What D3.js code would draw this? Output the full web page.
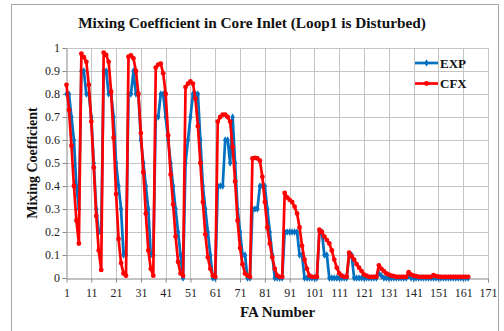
<!DOCTYPE html>
<html>
<head>
<meta charset="utf-8">
<script src="https://cdn.jsdelivr.net/npm/d3@7"></script>
<style>
  html, body { margin: 0; padding: 0; background: #fff; }
  svg { display: block; }
  text { font-family: "Liberation Serif", "Times New Roman", serif; }
</style>
</head>
<body>
<svg id="chart" width="504" height="331"></svg>
<script>
// ---------------- DATA ----------------
const chartTitle = "Mixing Coefficient in Core Inlet (Loop1 is Disturbed)";
const xTitle = "FA Number";
const yTitle = "Mixing Coefficient";
const seriesNames = ["EXP", "CFX"];
const xTickValues = [1, 11, 21, 31, 41, 51, 61, 71, 81, 91, 101, 111, 121, 131, 141, 151, 161, 171];
const yTickValues = [0, 0.1, 0.2, 0.3, 0.4, 0.5, 0.6, 0.7, 0.8, 0.9, 1];

const expValues = [
  0.8, 0.8, 0.7, 0.6, 0.4, 0.3,
  0.9, 0.9, 0.8, 0.8, 0.7, 0.5, 0.3, 0.2, 0.2,
  0.9, 0.9, 0.8, 0.8, 0.7, 0.5, 0.4, 0.3, 0.1, 0.1,
  0.8, 0.8, 0.9, 0.8, 0.8, 0.6, 0.5, 0.4, 0.3, 0.1, 0.1,
  0.7, 0.7, 0.8, 0.8, 0.7, 0.6, 0.5, 0.4, 0.3, 0.2, 0.1, 0.0,
  0.5, 0.6, 0.7, 0.8, 0.8, 0.8, 0.6, 0.4, 0.3, 0.2, 0.1, 0.0, 0.0,
  0.4, 0.4, 0.4, 0.6, 0.6, 0.5, 0.7, 0.5, 0.3, 0.2, 0.1, 0.1, 0.0, 0.0,
  0.3, 0.3, 0.3, 0.4, 0.4, 0.4, 0.3, 0.2, 0.1, 0.0, 0.0, 0.0, 0.0,
  0.2, 0.2, 0.2, 0.2, 0.2, 0.2, 0.1, 0.1, 0.0, 0.0, 0.0, 0.0, 0.0, 0.0,
  0.2, 0.2, 0.1, 0.1, 0.0, 0.0, 0.0, 0.0, 0.0, 0.0, 0.0, 0.0,
  0.1, 0.1, 0.0, 0.0, 0.0, 0.0, 0.0, 0.0, 0.0, 0.0, 0.0, 0.0,
  0.02, 0.01, 0.0, 0.0, 0.0, 0.0, 0.0, 0.0, 0.0, 0.0, 0.0, 0.0,
  0.01, 0.0, 0.0, 0.0, 0.0, 0.0, 0.0, 0.0, 0.0, 0.0,
  0.0, 0.0, 0.0, 0.0, 0.0, 0.0, 0.0, 0.0, 0.0, 0.0, 0.0, 0.0, 0.0, 0.0, 0.0
];

const cfxValues = [
  0.84, 0.73, 0.575, 0.40, 0.25, 0.15,
  0.975, 0.96, 0.94, 0.84, 0.68, 0.48, 0.27, 0.12, 0.035,
  0.98, 0.97, 0.94, 0.81, 0.61, 0.365, 0.17, 0.065, 0.02, 0.01,
  0.962, 0.968, 0.955, 0.90, 0.80, 0.63, 0.46, 0.28, 0.12, 0.04, 0.01,
  0.915, 0.928, 0.932, 0.89, 0.80, 0.62, 0.45, 0.32, 0.18, 0.07, 0.02, 0.01,
  0.83, 0.845, 0.855, 0.845, 0.78, 0.66, 0.50, 0.33, 0.19, 0.09, 0.04, 0.01, 0.005,
  0.68, 0.70, 0.71, 0.71, 0.70, 0.68, 0.57, 0.42, 0.25, 0.13, 0.06, 0.02, 0.01, 0.005,
  0.52, 0.522, 0.52, 0.51, 0.44, 0.33, 0.22, 0.15, 0.09, 0.04, 0.01, 0.005, 0.005,
  0.37, 0.35, 0.34, 0.33, 0.31, 0.28, 0.22, 0.14, 0.08, 0.04, 0.01, 0.005, 0.005, 0.005,
  0.21, 0.20, 0.18, 0.165, 0.15, 0.12, 0.08, 0.045, 0.02, 0.01, 0.005, 0.005,
  0.11, 0.095, 0.08, 0.06, 0.045, 0.03, 0.015, 0.01, 0.005, 0.005, 0.005, 0.005,
  0.055, 0.04, 0.03, 0.02, 0.015, 0.01, 0.008, 0.005, 0.005, 0.005, 0.005, 0.005,
  0.025, 0.015, 0.01, 0.008, 0.005, 0.005, 0.005, 0.005, 0.005, 0.005,
  0.012, 0.008, 0.006, 0.005, 0.005, 0.005, 0.005, 0.005, 0.005, 0.005, 0.005, 0.005, 0.005, 0.005, 0.005
];

const faNumbers = d3.range(1, expValues.length + 1);

// ---------------- LAYOUT ----------------
const svg = d3.select("#chart");
const plot = { left: 66.5, right: 488, top: 48, bottom: 278 };
const colors = { EXP: "#0070C0", CFX: "#FF0000" };

// outer chart border
svg.append("rect")
  .attr("x", 11.5).attr("y", 4.5)
  .attr("width", 487).attr("height", 340)
  .attr("fill", "#fff").attr("stroke", "#a6a6a6").attr("stroke-width", 1);

const x = d3.scaleLinear().domain([1, 171]).range([plot.left, plot.right]);
const y = d3.scaleLinear().domain([0, 1]).range([plot.bottom, plot.top]);

// grid
const grid = svg.append("g");
grid.selectAll("line.h").data(yTickValues.slice(1)).join("line")
  .attr("x1", plot.left).attr("x2", plot.right)
  .attr("y1", d => Math.round(y(d)) + 0.5).attr("y2", d => Math.round(y(d)) + 0.5)
  .attr("stroke", "#c4c4c4").attr("stroke-width", 1);
grid.selectAll("line.v").data(xTickValues.slice(1)).join("line")
  .attr("x1", d => Math.round(x(d)) + 0.5).attr("x2", d => Math.round(x(d)) + 0.5)
  .attr("y1", plot.top).attr("y2", plot.bottom)
  .attr("stroke", "#c4c4c4").attr("stroke-width", 1);

// axes
const xAxis = d3.axisBottom(x).tickValues(xTickValues).tickSize(4).tickSizeOuter(0).tickFormat(d3.format("d"));
const yAxis = d3.axisLeft(y).tickValues(yTickValues).tickSize(4).tickSizeOuter(0).tickFormat(d => d === 0 || d === 1 ? String(d) : d3.format(".1f")(d));

const gx = svg.append("g").attr("transform", `translate(0,${plot.bottom + 0.5})`).call(xAxis);
const gy = svg.append("g").attr("transform", `translate(${plot.left},0)`).call(yAxis);
[gx, gy].forEach(g => {
  g.select(".domain").attr("stroke", "#868686");
  g.selectAll(".tick line").attr("stroke", "#868686");
  g.selectAll(".tick text").attr("font-family", "Liberation Serif, serif").attr("font-size", 12).attr("fill", "#222");
});
gx.selectAll(".tick text").attr("dy", "0.95em");
gy.selectAll(".tick text").attr("x", -6.5);

// series
const line = d3.line().x((d, i) => x(faNumbers[i])).y(d => y(d));

// EXP
svg.append("path").datum(expValues)
  .attr("d", line).attr("fill", "none")
  .attr("stroke", colors.EXP).attr("stroke-width", 2.7).attr("stroke-linejoin", "round");
const diamond = d3.symbol().type(d3.symbolDiamond).size(16);
svg.append("g").selectAll("path").data(expValues).join("path")
  .attr("transform", (d, i) => `translate(${x(faNumbers[i])},${y(d)})`)
  .attr("d", diamond).attr("fill", colors.EXP);

// CFX
svg.append("path").datum(cfxValues)
  .attr("d", line).attr("fill", "none")
  .attr("stroke", colors.CFX).attr("stroke-width", 2.7).attr("stroke-linejoin", "round");
svg.append("g").selectAll("circle").data(cfxValues).join("circle")
  .attr("cx", (d, i) => x(faNumbers[i])).attr("cy", d => y(d))
  .attr("r", 2.4).attr("fill", colors.CFX);

// legend
const legend = svg.append("g");
const legendRows = [
  { name: seriesNames[0], y: 63, color: colors.EXP, marker: "diamond" },
  { name: seriesNames[1], y: 83.5, color: colors.CFX, marker: "circle" }
];
legendRows.forEach(r => {
  legend.append("line").attr("x1", 415).attr("x2", 438).attr("y1", r.y).attr("y2", r.y)
    .attr("stroke", r.color).attr("stroke-width", 2.7);
  if (r.marker === "diamond") {
    legend.append("path").attr("transform", `translate(426.5,${r.y})`).attr("d", diamond).attr("fill", r.color);
  } else {
    legend.append("circle").attr("cx", 426.5).attr("cy", r.y).attr("r", 2.4).attr("fill", r.color);
  }
  legend.append("text").attr("x", 440).attr("y", r.y + 4.5)
    .attr("font-size", 13).attr("font-weight", "bold").attr("fill", "#111").text(r.name);
});

// titles
svg.append("text").attr("x", 252).attr("y", 28).attr("text-anchor", "middle")
  .attr("font-size", 15.3).attr("font-weight", "bold").attr("fill", "#111").text(chartTitle);
svg.append("text").attr("x", 277.5).attr("y", 317).attr("text-anchor", "middle")
  .attr("font-size", 15).attr("font-weight", "bold").attr("fill", "#111").text(xTitle);
svg.append("text").attr("transform", "translate(37,163) rotate(-90)").attr("text-anchor", "middle")
  .attr("font-size", 14).attr("font-weight", "bold").attr("fill", "#111").text(yTitle);
</script>
</body>
</html>
